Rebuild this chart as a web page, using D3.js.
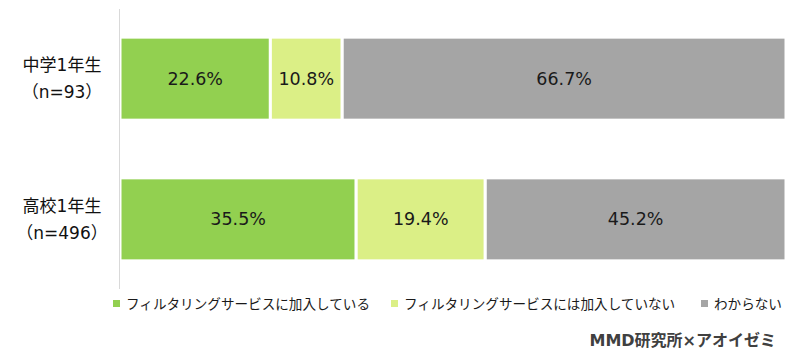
<!DOCTYPE html>
<html><head><meta charset="utf-8">
<script src="https://cdn.jsdelivr.net/npm/d3@7"></script>
<style>body{margin:0;background:#fff;} text{font-family:"DejaVu Sans","Noto Sans CJK JP",sans-serif;}</style>
</head><body><svg id="c" width="800" height="360"></svg>
<script>
const categories = ["中学1年生\n（n=93）", "高校1年生\n（n=496）"];
const seriesNames = ["フィルタリングサービスに加入している", "フィルタリングサービスには加入していない", "わからない"];
const joined = [22.6, 35.5];
const notJoined = [10.8, 19.4];
const unknown = [66.7, 45.2];
const colors = ["#92d050", "#dbef86", "#a5a5a5"];
const source = "MMD研究所×アオイゼミ";

const svg = d3.select("#c");
const rows = categories.map((c, i) => ({cat: c, v: [joined[i], notJoined[i], unknown[i]]}));
const maxSum = d3.max(rows, r => d3.sum(r.v));
const x = d3.scaleLinear().domain([0, maxSum]).range([120, 786]);
const y = d3.scaleBand().domain(categories).range([9, 289]).paddingInner(0.41).paddingOuter(0.2);

rows.forEach(r => {
  let acc = 0;
  r.v.forEach((v, j) => {
    const x0 = x(acc), x1 = x(acc + v);
    svg.append("rect").attr("x", x0).attr("y", y(r.cat)).attr("width", x1 - x0).attr("height", y.bandwidth())
      .attr("fill", colors[j]).attr("stroke", "#fff").attr("stroke-width", 3);
    svg.append("text").attr("x", (x0 + x1) / 2).attr("y", y(r.cat) + y.bandwidth() / 2)
      .attr("text-anchor", "middle").attr("dominant-baseline", "central")
      .attr("font-size", 17.5).attr("fill", "#1a1a1a").text(v.toFixed(1) + "%");
    acc += v;
  });
  const lines = r.cat.split("\n");
  const cy = y(r.cat) + y.bandwidth() / 2;
  lines.forEach((l, k) => {
    svg.append("text").attr("x", 62).attr("y", cy + (k - 0.5) * 27)
      .attr("text-anchor", "middle").attr("dominant-baseline", "central")
      .attr("font-size", 17).attr("fill", "#111").text(l);
  });
});

svg.append("line").attr("x1", 119.5).attr("x2", 119.5).attr("y1", 9).attr("y2", 289)
  .attr("stroke", "#d9d9d9").attr("stroke-width", 1);

const legX = [113, 391, 701];
seriesNames.forEach((n, j) => {
  svg.append("rect").attr("x", legX[j]).attr("y", 300).attr("width", 7).attr("height", 7).attr("fill", colors[j]);
  svg.append("text").attr("x", legX[j] + 13).attr("y", 304).attr("dominant-baseline", "central")
    .attr("font-size", 13.6).attr("fill", "#1a1a1a").attr("font-family", "Noto Sans CJK JP").text(n);
});

svg.append("text").attr("x", 776).attr("y", 340).attr("text-anchor", "end").attr("dominant-baseline", "central")
  .attr("font-size", 16).attr("font-weight", "bold").attr("fill", "#404040").text(source);
</script></body></html>
